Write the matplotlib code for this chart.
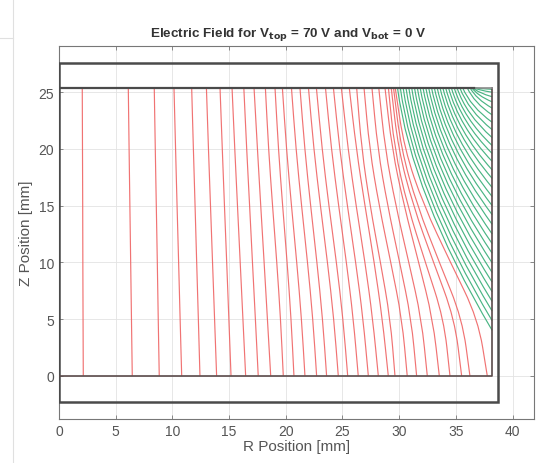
import matplotlib
matplotlib.use('Agg')
import matplotlib.pyplot as plt
from matplotlib.path import Path
from matplotlib.patches import PathPatch, Rectangle
from matplotlib.lines import Line2D

plt.rcParams['font.family'] = ['Liberation Sans', 'DejaVu Sans']

red_z = [0, 5, 10, 15, 20, 25.4]

# r position (mm) of each red field line at the z levels above
red_r = [
    [2.14, 2.12, 2.10, 2.09, 2.07, 2.05],
    [6.46, 6.39, 6.32, 6.25, 6.18, 6.11],
    [8.84, 8.75, 8.67, 8.58, 8.49, 8.40],
    [10.82, 10.68, 10.55, 10.41, 10.28, 10.14],
    [12.43, 12.29, 12.14, 12.00, 11.85, 11.70],
    [13.90, 13.72, 13.54, 13.36, 13.18, 13.00],
    [15.17, 14.98, 14.79, 14.59, 14.40, 14.20],
    [16.46, 16.22, 15.98, 15.74, 15.50, 15.26],
    [17.57, 17.32, 17.06, 16.81, 16.55, 16.30],
    [18.67, 18.38, 18.09, 17.79, 17.50, 17.20],
    [19.78, 19.54, 19.21, 18.83, 18.48, 18.20],
    [20.72, 20.47, 20.12, 19.72, 19.35, 19.05],
    [21.69, 21.39, 20.97, 20.50, 20.06, 19.70],
    [22.72, 22.39, 21.92, 21.39, 20.90, 20.50],
    [23.60, 23.25, 22.75, 22.19, 21.67, 21.25],
    [24.63, 24.24, 23.68, 23.05, 22.47, 22.00],
    [25.46, 25.05, 24.47, 23.80, 23.20, 22.70],
    [26.39, 25.96, 25.35, 24.66, 24.02, 23.50],
    [27.28, 26.82, 26.17, 25.43, 24.75, 24.20],
    [28.16, 27.67, 26.99, 26.20, 25.49, 24.90],
    [29.04, 28.52, 27.80, 26.98, 26.22, 25.60],
    [29.63, 29.22, 28.35, 27.43, 26.69, 26.25],
    [30.71, 30.25, 29.26, 28.23, 27.39, 26.90],
    [31.54, 31.07, 30.04, 28.98, 28.11, 27.60],
    [32.48, 31.97, 30.85, 29.70, 28.76, 28.20],
    [33.54, 32.97, 31.72, 30.43, 29.37, 28.75],
    [34.48, 33.94, 32.31, 30.73, 29.59, 29.05],
    [35.51, 34.89, 33.03, 31.23, 29.92, 29.30],
    [36.24, 35.57, 33.54, 31.59, 30.17, 29.50],
    [37.77, 36.96, 34.52, 32.17, 30.46, 29.65],
]

# green field lines: start r on the top electrode, end z on the side wall
green_top_r = [29.85, 30.1, 30.35, 30.6, 30.85, 31.1, 31.35, 31.6, 31.85, 32.1,
               32.35, 32.6, 32.85, 33.1, 33.35, 33.6, 33.85, 34.1, 34.35, 34.6,
               34.85, 35.1, 35.35, 35.6, 36.0, 36.25, 36.4, 36.48, 36.53, 36.57]
green_wall_z = [4.0, 4.85, 5.7, 6.55, 7.4, 8.25, 9.1, 9.95, 10.8, 11.65,
                12.5, 13.35, 14.2, 15.0, 15.8, 16.6, 17.4, 18.15, 18.9, 19.6,
                20.3, 21.0, 21.7, 22.35, 23.0, 23.6, 24.15, 24.6, 25.0, 25.25]

# geometry (mm)
z_top = 25.4
r_wall = 38.2
r_electrode = 36.6
outer_box = (0, -2.3, 38.7, 27.6)

red_color = '#ef6464'
green_color = '#36ad76'
box_color = '#4a4a4a'


def smooth_path(xs, ys):
    # quadratic pieces through midpoints, so the read-off points give a smooth line
    pts = list(zip(xs, ys))
    verts = [pts[0]]
    codes = [Path.MOVETO]
    for i in range(1, len(pts) - 1):
        mid = ((pts[i][0] + pts[i + 1][0]) / 2, (pts[i][1] + pts[i + 1][1]) / 2)
        if i == 1:
            first = ((pts[0][0] + pts[1][0]) / 2, (pts[0][1] + pts[1][1]) / 2)
            verts.append(first)
            codes.append(Path.LINETO)
        verts += [pts[i], mid]
        codes += [Path.CURVE3, Path.CURVE3]
    verts.append(pts[-1])
    codes.append(Path.LINETO)
    return Path(verts, codes)


fig = plt.figure(figsize=(5.38, 4.64), dpi=100)
ax = fig.add_axes([0.1097, 0.0948, 0.883, 0.8045])

for row in red_r:
    ax.add_patch(PathPatch(smooth_path(row, red_z), fill=False,
                           edgecolor=red_color, lw=0.85, alpha=0.9, zorder=2))

# green lines drawn as quadratic curves; the lowest one bends like the last
# red line, the upper ones are closer to straight diagonals
n_green = len(green_top_r)
for k, (rt, zw) in enumerate(zip(green_top_r, green_wall_z)):
    t = k / (n_green - 1)
    a = 0.15 + 0.15 * t
    b = 0.56 - 0.14 * t
    ctrl = (rt + a * (r_wall - rt), zw + b * (z_top - zw))
    path = Path([(rt, z_top), ctrl, (r_wall, zw)],
                [Path.MOVETO, Path.CURVE3, Path.CURVE3])
    ax.add_patch(PathPatch(path, fill=False, edgecolor=green_color,
                           lw=0.85, alpha=0.9, zorder=2))

# boxes
x0, y0, x1, y1 = outer_box
ax.add_patch(Rectangle((x0, y0), x1 - x0, y1 - y0, fill=False,
                       edgecolor=box_color, lw=1.8, zorder=3))
ax.plot([0, r_wall, r_wall], [0, 0, z_top], color='#5a4a4a', lw=1.2, zorder=3)
ax.plot([r_electrode, r_wall], [z_top, z_top], color='#8a8a8a', lw=1.2, zorder=3)
ax.plot([0, r_electrode], [z_top, z_top], color=box_color, lw=1.6, zorder=3)

ax.set_xlim(0, 41.9)
ax.set_ylim(-3.82, 29.1)
ax.set_xticks(range(0, 41, 5))
ax.set_yticks(range(0, 26, 5))
ax.grid(True, color='#e3e3e3', lw=0.6)
ax.set_axisbelow(True)
ax.tick_params(direction='in', top=True, right=True, length=3,
               colors='#777777', labelcolor='#555555', labelsize=10, width=0.6)
for s in ax.spines.values():
    s.set_color('#777777')
    s.set_linewidth(0.8)

ax.set_xlabel('R Position [mm]', fontsize=11, color='#555555', labelpad=1)
ax.set_ylabel('Z Position [mm]', fontsize=11, color='#555555', labelpad=4)
ax.set_title(r'Electric Field for V$_{\mathbf{top}}$ = 70 V and V$_{\mathbf{bot}}$ = 0 V',
             fontsize=9.7, fontweight='bold', color='#333333', pad=7, x=0.483)

# screenshot border lines
fig.add_artist(Line2D([13 / 538, 13 / 538], [0, 1], color='#e0e0e0', lw=0.8))
fig.add_artist(Line2D([0, 13 / 538], [1 - 39 / 464, 1 - 39 / 464], color='#e0e0e0', lw=0.8))

fig.savefig('out.png', dpi=100)
